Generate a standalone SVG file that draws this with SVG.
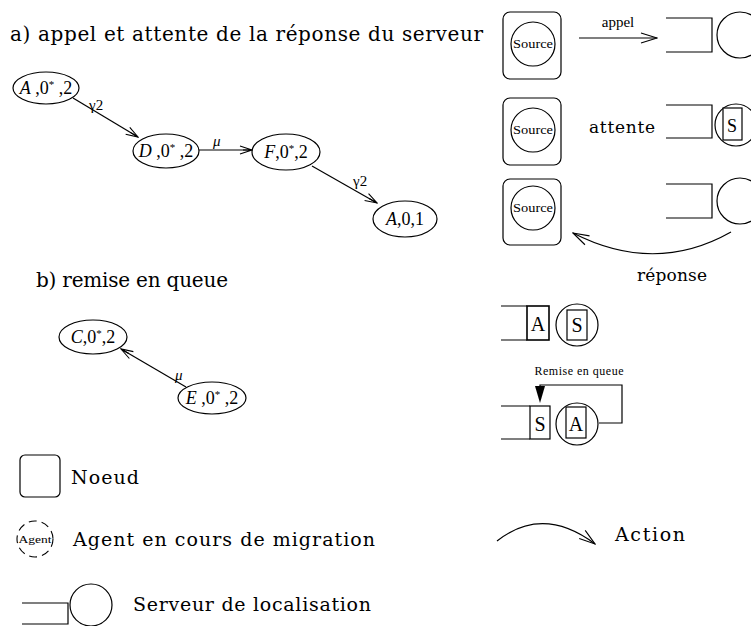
<svg xmlns="http://www.w3.org/2000/svg" width="751" height="626" viewBox="0 0 751 626" font-family="'Liberation Serif', 'DejaVu Serif', serif">
  <style>
    .ln { fill: none; stroke: #000; stroke-width: 1.2; }
    .st { fill: #fff; stroke: #000; stroke-width: 1.2; }
    text { font-family: 'Liberation Serif', 'DejaVu Serif', serif; fill: #000; }
    .cm { font-family: 'DejaVu Serif', serif; font-size: 19px; }
    .math { font-size: 18px; text-anchor: middle; }
    .it { font-style: italic; }
    .sup { font-size: 11px; }
    .src { font-size: 13px; text-anchor: middle; }
  </style>
  <defs>
    <marker id="open" viewBox="0 0 14 10" refX="13" refY="5" markerWidth="14" markerHeight="10" markerUnits="userSpaceOnUse" orient="auto">
      <path d="M1,1 L13,5 L1,9 M4,5 L13,5" fill="none" stroke="#000" stroke-width="1.1"/>
    </marker>
    <marker id="barb" viewBox="0 0 18 12" refX="17" refY="6" markerWidth="18" markerHeight="12" markerUnits="userSpaceOnUse" orient="auto">
      <path d="M1,1 L17,6 L1,11" fill="none" stroke="#000" stroke-width="1.1"/>
    </marker>
  </defs>

  <!-- section headings -->
  <text class="cm" x="10" y="41" font-size="20" style="font-size:20px" textLength="473" lengthAdjust="spacing">a) appel et attente de la réponse du serveur</text>
  <text class="cm" x="36" y="287" style="font-size:20px" textLength="192" lengthAdjust="spacing">b) remise en queue</text>

  <!-- state graph a) -->
  <g id="nA">
    <ellipse class="st" cx="46" cy="88" rx="33" ry="16"/>
    <text class="math" x="46" y="94"><tspan class="it">A</tspan> ,0<tspan class="sup" dy="-6">*</tspan><tspan dy="6"> ,2</tspan></text>
  </g>
  <g id="nD">
    <ellipse class="st" cx="166" cy="151" rx="33" ry="17"/>
    <text class="math" x="166" y="157"><tspan class="it">D</tspan> ,0<tspan class="sup" dy="-6">*</tspan><tspan dy="6"> ,2</tspan></text>
  </g>
  <g id="nF">
    <ellipse class="st" cx="286" cy="152" rx="34" ry="18"/>
    <text class="math" x="286" y="158"><tspan class="it">F</tspan>,0<tspan class="sup" dy="-6">*</tspan><tspan dy="6">,2</tspan></text>
  </g>
  <g id="nA2">
    <ellipse class="st" cx="405" cy="219" rx="32" ry="18"/>
    <text class="math" x="405" y="225"><tspan class="it">A</tspan>,0,1</text>
  </g>

  <!-- state graph b) -->
  <g id="nC">
    <ellipse class="st" cx="93" cy="337" rx="34" ry="17"/>
    <text class="math" x="93" y="343"><tspan class="it">C</tspan>,0<tspan class="sup" dy="-6">*</tspan><tspan dy="6">,2</tspan></text>
  </g>
  <g id="nE">
    <ellipse class="st" cx="212" cy="398" rx="34" ry="16"/>
    <text class="math" x="212" y="404"><tspan class="it">E</tspan> ,0<tspan class="sup" dy="-6">*</tspan><tspan dy="6"> ,2</tspan></text>
  </g>

  <!-- transitions -->
  <g id="edges">
    <line class="ln" x1="73" y1="98" x2="138" y2="137" marker-end="url(#open)"/>
    <line class="ln" x1="199" y1="150" x2="252" y2="150" marker-end="url(#open)"/>
    <line class="ln" x1="312" y1="166" x2="377" y2="203" marker-end="url(#open)"/>
    <line class="ln" x1="186" y1="387" x2="121" y2="349" marker-end="url(#open)"/>
    <text x="89" y="110" font-size="15">γ2</text>
    <text class="it" x="213" y="146" font-size="15">μ</text>
    <text x="353" y="186" font-size="15">γ2</text>
    <text class="it" x="175" y="380" font-size="15">μ</text>
  </g>

  <!-- right column: call / wait / reply -->
  <g id="src1">
    <rect class="st" x="503" y="12" width="58" height="67" rx="7"/>
    <circle class="st" cx="533" cy="44" r="22"/>
    <text class="src" x="533" y="48" textLength="40" lengthAdjust="spacingAndGlyphs">Source</text>
  </g>
  <g id="srv1">
    <path class="ln" d="M666,18 H712 V52 H666"/>
    <circle class="st" cx="740" cy="35" r="23"/>
  </g>
  <g id="src2">
    <rect class="st" x="503" y="98" width="58" height="67" rx="7"/>
    <circle class="st" cx="533" cy="130" r="22"/>
    <text class="src" x="533" y="134" textLength="40" lengthAdjust="spacingAndGlyphs">Source</text>
  </g>
  <g id="srv2">
    <path class="ln" d="M666,105 H712 V138 H666"/>
    <circle class="st" cx="736" cy="125" r="21"/>
    <rect class="st" x="723" y="108" width="19" height="32"/>
    <text x="732" y="132" font-size="18" text-anchor="middle">S</text>
  </g>
  <g id="src3">
    <rect class="st" x="503" y="179" width="58" height="66" rx="7"/>
    <circle class="st" cx="533" cy="208" r="22"/>
    <text class="src" x="533" y="212" textLength="40" lengthAdjust="spacingAndGlyphs">Source</text>
  </g>
  <g id="srv3">
    <path class="ln" d="M666,184 H712 V218 H666"/>
    <circle class="st" cx="740" cy="201" r="23"/>
  </g>
  <g id="actions">
    <line class="ln" x1="579" y1="38" x2="657" y2="38" marker-end="url(#barb)"/>
    <text x="618" y="27" font-size="15" text-anchor="middle">appel</text>
    <text class="cm" x="589" y="133" style="font-size:17px" textLength="66" lengthAdjust="spacing">attente</text>
    <path class="ln" d="M731,232 Q655,275 573,233" marker-end="url(#barb)"/>
    <text class="cm" x="637" y="281" style="font-size:17px" textLength="70" lengthAdjust="spacing">réponse</text>
  </g>

  <!-- right column: requeue -->
  <g id="srv4">
    <path class="ln" d="M501,306 H527 M501,340 H527"/>
    <rect class="st" x="527" y="306" width="22" height="34" style="stroke-width:1.6"/>
    <text x="538" y="331" font-size="20" text-anchor="middle">A</text>
    <circle class="st" cx="577" cy="325" r="21"/>
    <rect class="st" x="567" y="310" width="20" height="30"/>
    <text x="577" y="332" font-size="20" text-anchor="middle">S</text>
  </g>
  <g id="srv5">
    <path class="ln" d="M501,406 H530 M501,439 H530"/>
    <rect class="st" x="530" y="406" width="20" height="33"/>
    <text x="540" y="431" font-size="20" text-anchor="middle">S</text>
    <circle class="st" cx="577" cy="424" r="21"/>
    <rect class="st" x="566" y="407" width="20" height="31"/>
    <text x="576" y="431" font-size="20" text-anchor="middle">A</text>
  </g>
  <g id="requeue">
    <path class="ln" d="M599,423 H622 V385 H540 V392"/>
    <polygon points="535,386 545,386 540,403" fill="#000"/>
    <text x="579" y="375" font-size="12" text-anchor="middle" textLength="89" lengthAdjust="spacing">Remise en queue</text>
  </g>

  <!-- legend -->
  <g id="legNode">
    <rect class="st" x="20" y="455" width="40" height="42" rx="5"/>
    <text class="cm" x="71" y="484" textLength="68" lengthAdjust="spacing">Noeud</text>
  </g>
  <g id="legAgent">
    <circle cx="35" cy="539" r="18" fill="none" stroke="#000" stroke-width="1.1" stroke-dasharray="8,5"/>
    <text x="35" y="543" font-size="11" text-anchor="middle" textLength="33" lengthAdjust="spacingAndGlyphs">Agent</text>
    <text class="cm" x="73" y="546" textLength="302" lengthAdjust="spacing">Agent en cours de migration</text>
  </g>
  <g id="legServer">
    <path class="ln" d="M22,603 H68 V624 H22"/>
    <circle class="st" cx="91" cy="605" r="21"/>
    <text class="cm" x="133" y="611" textLength="238" lengthAdjust="spacing">Serveur de localisation</text>
  </g>
  <g id="legAction">
    <path class="ln" d="M497,541 Q543,505 595,544" marker-end="url(#barb)"/>
    <text class="cm" x="615" y="541" textLength="70" lengthAdjust="spacing">Action</text>
  </g>
</svg>
